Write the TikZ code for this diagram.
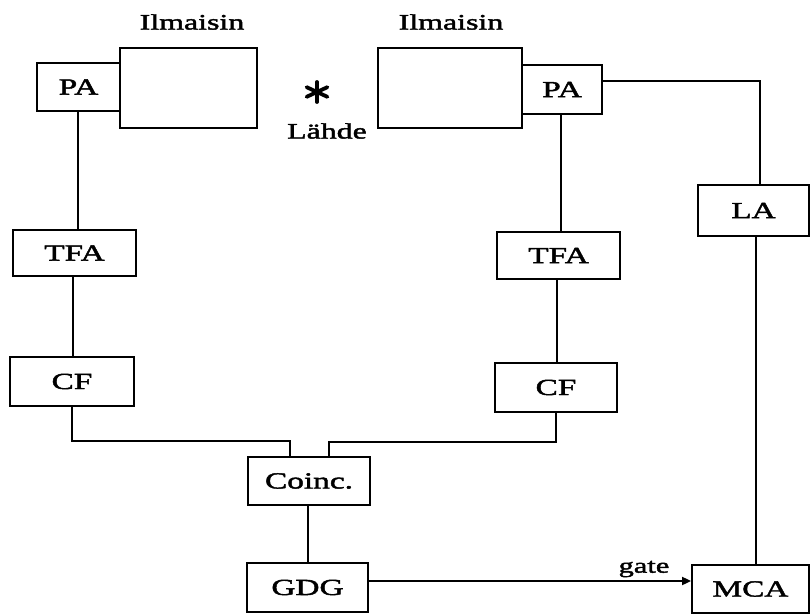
\documentclass[tikz,border=0pt]{standalone}
\usepackage{fontspec}
\setmainfont{Liberation Serif}[FakeStretch=1.45,FakeBold=2]
\usetikzlibrary{arrows.meta,calc}
\tikzset{
  blk/.style={draw, line width=1.8pt, fill=white, inner sep=0pt, font=\fontsize{23}{23}\selectfont},
  wire/.style={line width=1.8pt},
  lbl/.style={inner sep=0pt, font=\fontsize{22}{22}\selectfont},
  stararm/.style={line width=3.8pt, line cap=round},
}
\newcommand{\bx}[6]{\node[blk, minimum width=#4pt-#3pt, minimum height=#6pt-#5pt] (#1) at ({(#3+#4)/2},{(#5+#6)/2}) {#2};}
\begin{document}
\begin{tikzpicture}[x=1pt,y=-1pt]
\useasboundingbox (0,0) rectangle (810,615);
% detectors
\bx{detL}{}{120}{257}{48}{128}
\bx{paL}{PA}{37}{120}{63}{111}
\bx{detR}{}{378}{522}{48}{128}
\bx{paR}{PA}{522}{602}{65}{114}
\bx{tfaL}{TFA}{13}{136}{230}{276}
\bx{cfL}{CF}{10}{134}{357}{406}
\bx{tfaR}{TFA}{497}{620}{232}{279}
\bx{cfR}{CF}{495}{617}{363}{412}
\bx{coinc}{Coinc.}{248}{370}{457}{505}
\bx{gdg}{GDG}{247}{368}{563}{612}
\bx{la}{LA}{698}{809}{185}{236}
\bx{mca}{MCA}{692}{809}{565}{613}
% labels
\node[lbl] (ilmL) at (192,22) {Ilmaisin};
\node[lbl] (ilmR) at (451,22) {Ilmaisin};
\node[lbl] (lahde) at (327,131) {Lähde};
\node[inner sep=0pt, font=\fontsize{21}{21}\selectfont] (gate) at (644,569) {gate};
% source star
\coordinate (star) at (317,92);
\draw[stararm] ($(star)+(90:10)$) -- ($(star)+(270:10)$);
\foreach \ang in {25,155}{
  \draw[stararm] ($(star)+(\ang:11.5)$) -- ($(star)+(\ang+180:11.5)$);
}
% connectors
\coordinate (a1) at ($(paL.south)+(-0.5,0)$);
\draw[wire] (a1) -- (a1 |- tfaL.north);
\coordinate (a2) at ($(tfaL.south)+(-1.5,0)$);
\draw[wire] (a2) -- (a2 |- cfL.north);
\coordinate (cL) at (290,441);
\draw[wire] (cfL.south) |- (cL) -- (cL |- coinc.north);
\coordinate (b1) at ($(paR.south)+(-1,0)$);
\draw[wire] (b1) -- (b1 |- tfaR.north);
\coordinate (b2) at ($(tfaR.south)+(-1.5,0)$);
\draw[wire] (b2) -- (b2 |- cfR.north);
\coordinate (cR) at (329,442);
\draw[wire] (cfR.south) |- (cR) -- (cR |- coinc.north);
\coordinate (laT) at (760,81);
\draw[wire] (paR.east |- laT) -- (laT) -- (laT |- la.north);
\coordinate (laB) at (756,236);
\draw[wire] (laB) -- (laB |- mca.north);
\coordinate (g1) at ($(coinc.south)+(-1,0)$);
\draw[wire] (g1) -- (g1 |- gdg.north);
\coordinate (ar) at (0,581);
\draw[wire, -{Triangle[length=9pt,width=8pt]}] (gdg.east |- ar) -- (mca.west |- ar);
\end{tikzpicture}
\end{document}
